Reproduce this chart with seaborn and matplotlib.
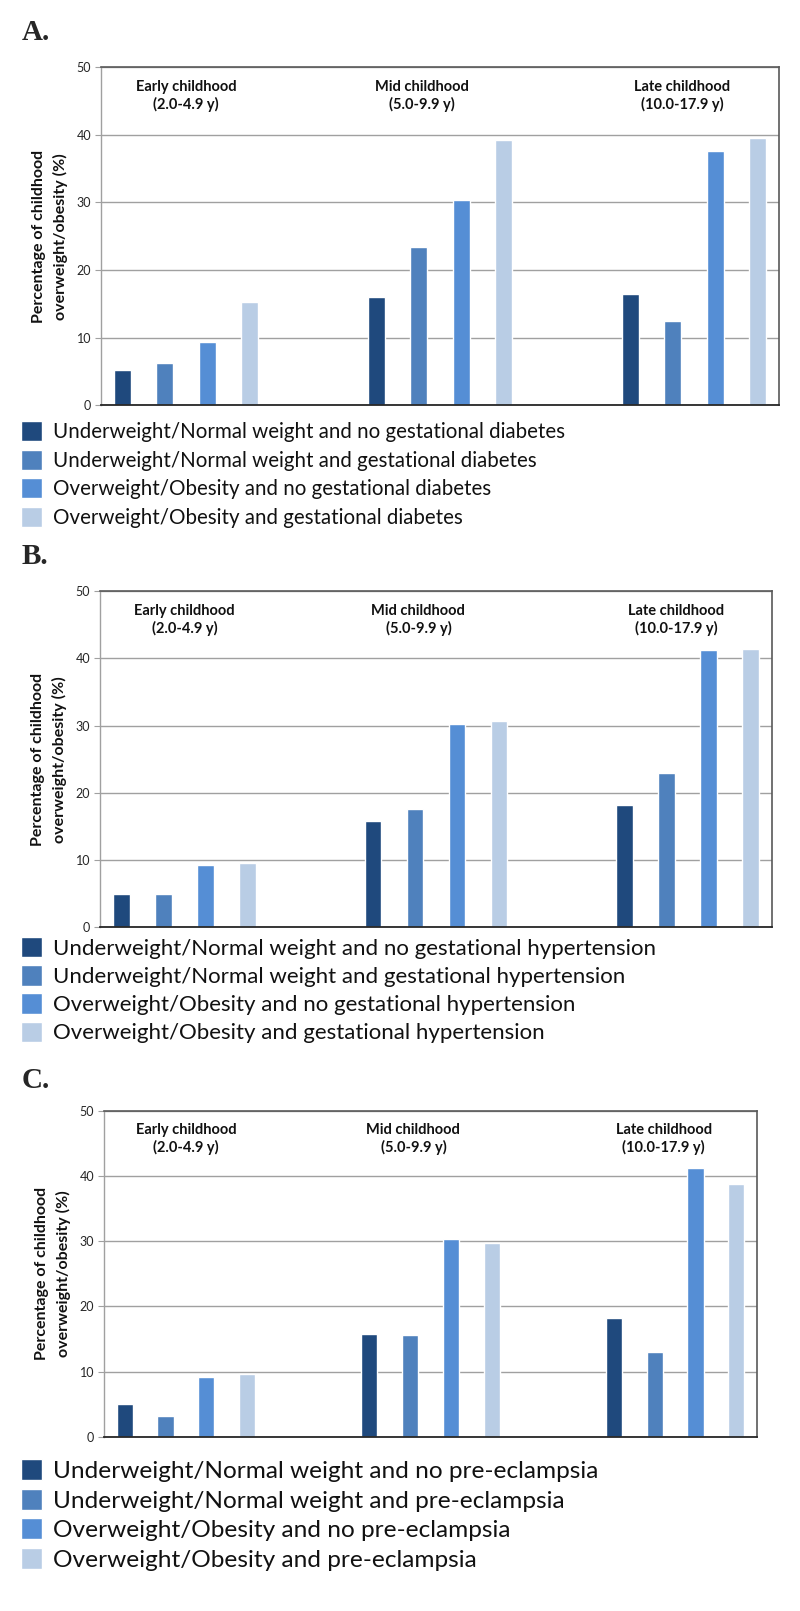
import matplotlib
matplotlib.use("Agg")
import matplotlib.pyplot as plt
import seaborn as sns
import pandas as pd

sns.set_style("white")
plt.rcParams["font.family"] = ["Lato", "DejaVu Sans"]

# data
stages = ["Early", "Mid", "Late"]
stage_labels = ["Early childhood\n(2.0-4.9 y)", "Mid childhood\n(5.0-9.9 y)", "Late childhood\n(10.0-17.9 y)"]
colors = ["#1F497D", "#4F81BD", "#558ED5", "#B9CDE5"]

groups_a = ["Underweight/Normal weight and no gestational diabetes",
            "Underweight/Normal weight and gestational diabetes",
            "Overweight/Obesity and no gestational diabetes",
            "Overweight/Obesity and gestational diabetes"]
values_a = [[5.2, 6.3, 9.4, 15.3],
            [16.0, 23.4, 30.3, 39.2],
            [16.4, 12.4, 37.6, 39.5]]

groups_b = ["Underweight/Normal weight and no gestational hypertension",
            "Underweight/Normal weight and gestational hypertension",
            "Overweight/Obesity and no gestational hypertension",
            "Overweight/Obesity and gestational hypertension"]
values_b = [[5.0, 4.9, 9.3, 9.5],
            [15.8, 17.6, 30.2, 30.7],
            [18.2, 22.9, 41.3, 41.4]]

groups_c = ["Underweight/Normal weight and no pre-eclampsia",
            "Underweight/Normal weight and pre-eclampsia",
            "Overweight/Obesity and no pre-eclampsia",
            "Overweight/Obesity and pre-eclampsia"]
values_c = [[5.0, 3.2, 9.2, 9.7],
            [15.7, 15.6, 30.3, 29.8],
            [18.2, 13.0, 41.3, 38.8]]

W, H = 800, 1611
fig = plt.figure(figsize=(W / 100, H / 100), dpi=100)


def px_rect(left, right, top, bottom):
    return [left / W, 1 - bottom / H, (right - left) / W, (bottom - top) / H]


def draw_panel(letter, groups, values, rect, letter_y, legend_top, legend_fs, row_gap, text_pad):
    ax = fig.add_axes(px_rect(*rect))
    rows = []
    for i, st in enumerate(stages):
        for g, v in zip(groups, values[i]):
            rows.append({"stage": st, "group": g, "pct": v})
    df = pd.DataFrame(rows)
    sns.barplot(data=df, x="stage", y="pct", hue="group", hue_order=groups,
                palette=colors, width=0.667, gap=0.6, errorbar=None,
                saturation=1, ax=ax, legend=True)
    ax.set_xlim(-0.335, 2.335)
    ax.set_ylim(0, 50)
    ax.set_yticks(range(0, 51, 10))
    ax.set_xticks([])
    ax.set_xlabel("")
    ax.grid(axis="y", color="#A0A0A0", linewidth=1.0)
    ax.set_axisbelow(True)
    ax.tick_params(axis="y", length=4, width=0.8, color="#A0A0A0",
                   labelsize=9, labelcolor="#262626", pad=3, left=True)
    for side in ["top", "right"]:
        ax.spines[side].set_color("#595959")
        ax.spines[side].set_linewidth(1.2)
    ax.spines["left"].set_color("#A0A0A0")
    ax.spines["left"].set_linewidth(1.0)
    ax.spines["bottom"].set_color("#262626")
    ax.spines["bottom"].set_linewidth(1.3)

    ax.set_ylabel("Percentage of childhood\noverweight/obesity (%)", fontsize=11.5,
                  fontweight="bold", linespacing=1.6, color="#111111")
    ax.yaxis.label.set_va("center")
    ax.yaxis.set_label_coords(-51 / (rect[1] - rect[0]), 0.5)

    offsets = [0.0, -0.07, -0.047]
    for i, lab in enumerate(stage_labels):
        ax.text(i + offsets[i], 45.7, lab, ha="center", va="center", fontsize=10.5,
                fontweight="bold", linespacing=1.27, color="#111111")

    fig.text(22 / W, 1 - letter_y / H, letter, fontsize=21, fontweight="bold",
             family="Liberation Serif", va="center", ha="left")

    fs_px = legend_fs * 100 / 72
    handles, labels = ax.get_legend_handles_labels()
    ax.legend(handles, labels, loc="upper left",
              bbox_to_anchor=(21 / W, 1 - legend_top / H), bbox_transform=fig.transFigure,
              frameon=False, fontsize=legend_fs, borderpad=0, borderaxespad=0,
              handlelength=21 / fs_px, handleheight=23 / fs_px, handletextpad=text_pad,
              labelspacing=row_gap, labelcolor="#111111")
    return ax


draw_panel("A.", groups_a, values_a, (101, 779, 67, 405.4), 32, 421, 14.8, 0.37, 0.55)
draw_panel("B.", groups_b, values_b, (100, 772, 591, 927.3), 556, 937, 16, 0.29, 0.5)
draw_panel("C.", groups_c, values_c, (104, 757, 1111, 1436.7), 1080, 1459, 17.6, 0.28, 0.45)

plt.savefig("out.png", dpi=100)
